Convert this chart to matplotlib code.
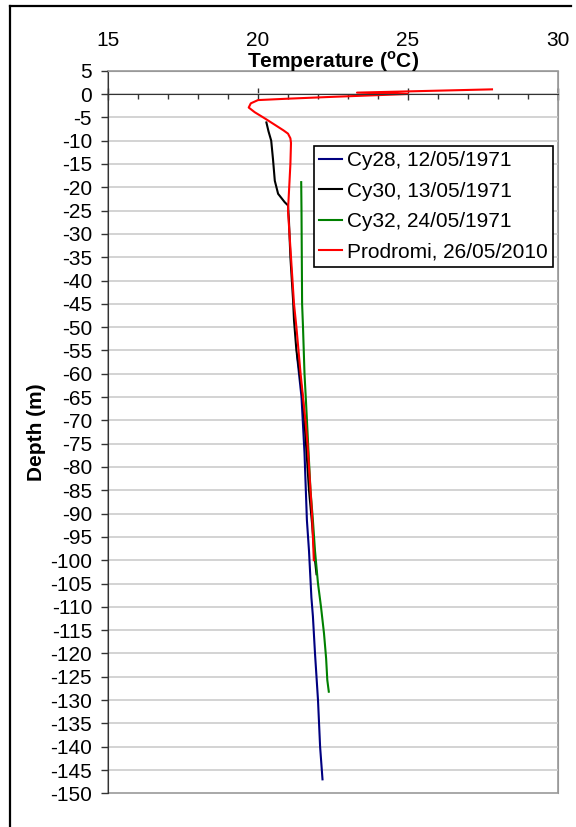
import matplotlib
matplotlib.use('Agg')
import matplotlib.pyplot as plt
from matplotlib.lines import Line2D
from matplotlib.ticker import MultipleLocator

plt.rcParams['font.family'] = ['Liberation Sans', 'DejaVu Sans']
plt.rcParams['axes.unicode_minus'] = False
plt.rcParams['mathtext.fontset'] = 'custom'
plt.rcParams['mathtext.rm'] = 'Liberation Sans'
plt.rcParams['mathtext.bf'] = 'Liberation Sans:bold'

# borehole temperature profiles: temperature (deg C) against depth (m, negative down)
cy28_temp = [21.30, 21.45, 21.55, 21.63, 21.70, 21.78, 21.83, 21.90, 22.00, 22.07, 22.15]
cy28_depth = [-56, -65, -77, -91.4, -98, -108, -112, -120, -130, -140, -147]

cy30_temp = [20.28, 20.35, 20.44, 20.50, 20.56, 20.67, 20.89, 21.00, 21.03, 21.08,
             21.17, 21.20, 21.28, 21.35, 21.50, 21.60, 21.70, 21.80, 21.90, 21.95]
cy30_depth = [-6.1, -8, -10, -14, -18.6, -21.4, -23.2, -23.9, -27, -35,
              -44.3, -48.5, -55, -58, -65.6, -75, -85, -92, -100, -103]

cy32_temp = [21.44, 21.45, 21.46, 21.47, 21.50, 21.55, 21.60, 21.67, 21.75, 21.83,
             21.90, 22.00, 22.10, 22.20, 22.27, 22.31, 22.36]
cy32_depth = [-18.9, -25, -35, -45, -50, -60, -66, -75, -85, -91.4,
              -98, -105, -110, -115.7, -121, -125.7, -128.2]

prod_temp = [27.8, 23.3, 25.0, 22.5, 21.0, 20.0, 19.76, 19.69, 19.89, 20.22, 20.56,
             20.85, 21.0, 21.08, 21.1, 21.08, 21.04, 21.0, 21.05, 21.1, 21.15, 21.2,
             21.28, 21.35, 21.42, 21.5, 21.58, 21.65, 21.7, 21.75, 21.8, 21.83, 21.86]
prod_depth = [1.0, 0.3, 0.0, -0.6, -1.0, -1.3, -2.0, -2.9, -3.9, -5.2, -6.6,
              -7.8, -8.5, -9.5, -10.5, -15, -20, -25, -30, -35, -40, -45,
              -50, -55, -60, -65, -70, -75, -80, -85, -90, -95, -100]

fig = plt.figure(figsize=(5.76, 8.27), dpi=100)
ax = fig.add_axes([0.1875, 0.0407, 0.78125, 0.8738])

ax.plot(cy28_temp, cy28_depth, color='#000080', lw=1.5, label='Cy28, 12/05/1971')
ax.plot(cy30_temp, cy30_depth, color='black', lw=1.5, label='Cy30, 13/05/1971')
ax.plot(cy32_temp, cy32_depth, color='#008000', lw=1.5, label='Cy32, 24/05/1971')
ax.plot(prod_temp, prod_depth, color='#ff0000', lw=1.5, label='Prodromi, 26/05/2010')

ax.set_xlim(15, 30)
ax.set_ylim(-150, 5)
ax.set_xticks(range(15, 31, 5))
ax.set_yticks(range(-150, 6, 5))
ax.xaxis.set_minor_locator(MultipleLocator(1))

# x axis crosses at depth 0, labels sit above the plot
ax.spines['bottom'].set_position(('data', 0))
ax.spines['bottom'].set_color('#333333')
ax.spines['left'].set_color('#333333')
for s in ['top', 'right']:
    ax.spines[s].set_color('#999999')
ax.patch.set_edgecolor('#999999')
ax.patch.set_linewidth(1.2)

ax.tick_params(axis='x', which='major', direction='inout', length=9, width=1,
               color='#333333', bottom=True, top=False, labelbottom=False,
               labeltop=True, labelsize=15, pad=10.5)
ax.tick_params(axis='x', which='minor', direction='out', length=3.6, width=1,
               color='#333333', bottom=True, top=False)
ax.tick_params(axis='y', direction='out', length=5, width=1, color='#333333',
               labelsize=15, pad=6.5)

ax.yaxis.grid(True, color='#cccccc', lw=1.2)
ax.set_axisbelow(True)
ax.yaxis.get_major_ticks()[0].gridline.set_visible(False)

ax.text(0.5, 1.004, r'Temperature ($^{\mathbf{o}}$C)', transform=ax.transAxes,
        ha='center', va='baseline', fontsize=15, fontweight='bold')
ax.set_ylabel('Depth (m)', fontsize=15, fontweight='bold', labelpad=3)

leg = ax.legend(loc='upper right', bbox_to_anchor=(0.989, 0.896), fontsize=15,
                fancybox=False, edgecolor='black', framealpha=1, borderpad=0.25,
                labelspacing=0.55, handlelength=1.1, handletextpad=0.25,
                borderaxespad=0)
leg.get_frame().set_linewidth(1.2)

# outer chart frame
fig.add_artist(Line2D([0.01736, 0.9913], [0.99274, 0.99274], color='black', lw=1.6,
                      transform=fig.transFigure))
fig.add_artist(Line2D([0.01736, 0.01736], [0.99274, 0.0], color='black', lw=1.6,
                      transform=fig.transFigure))

fig.savefig('out.png', dpi=100)
